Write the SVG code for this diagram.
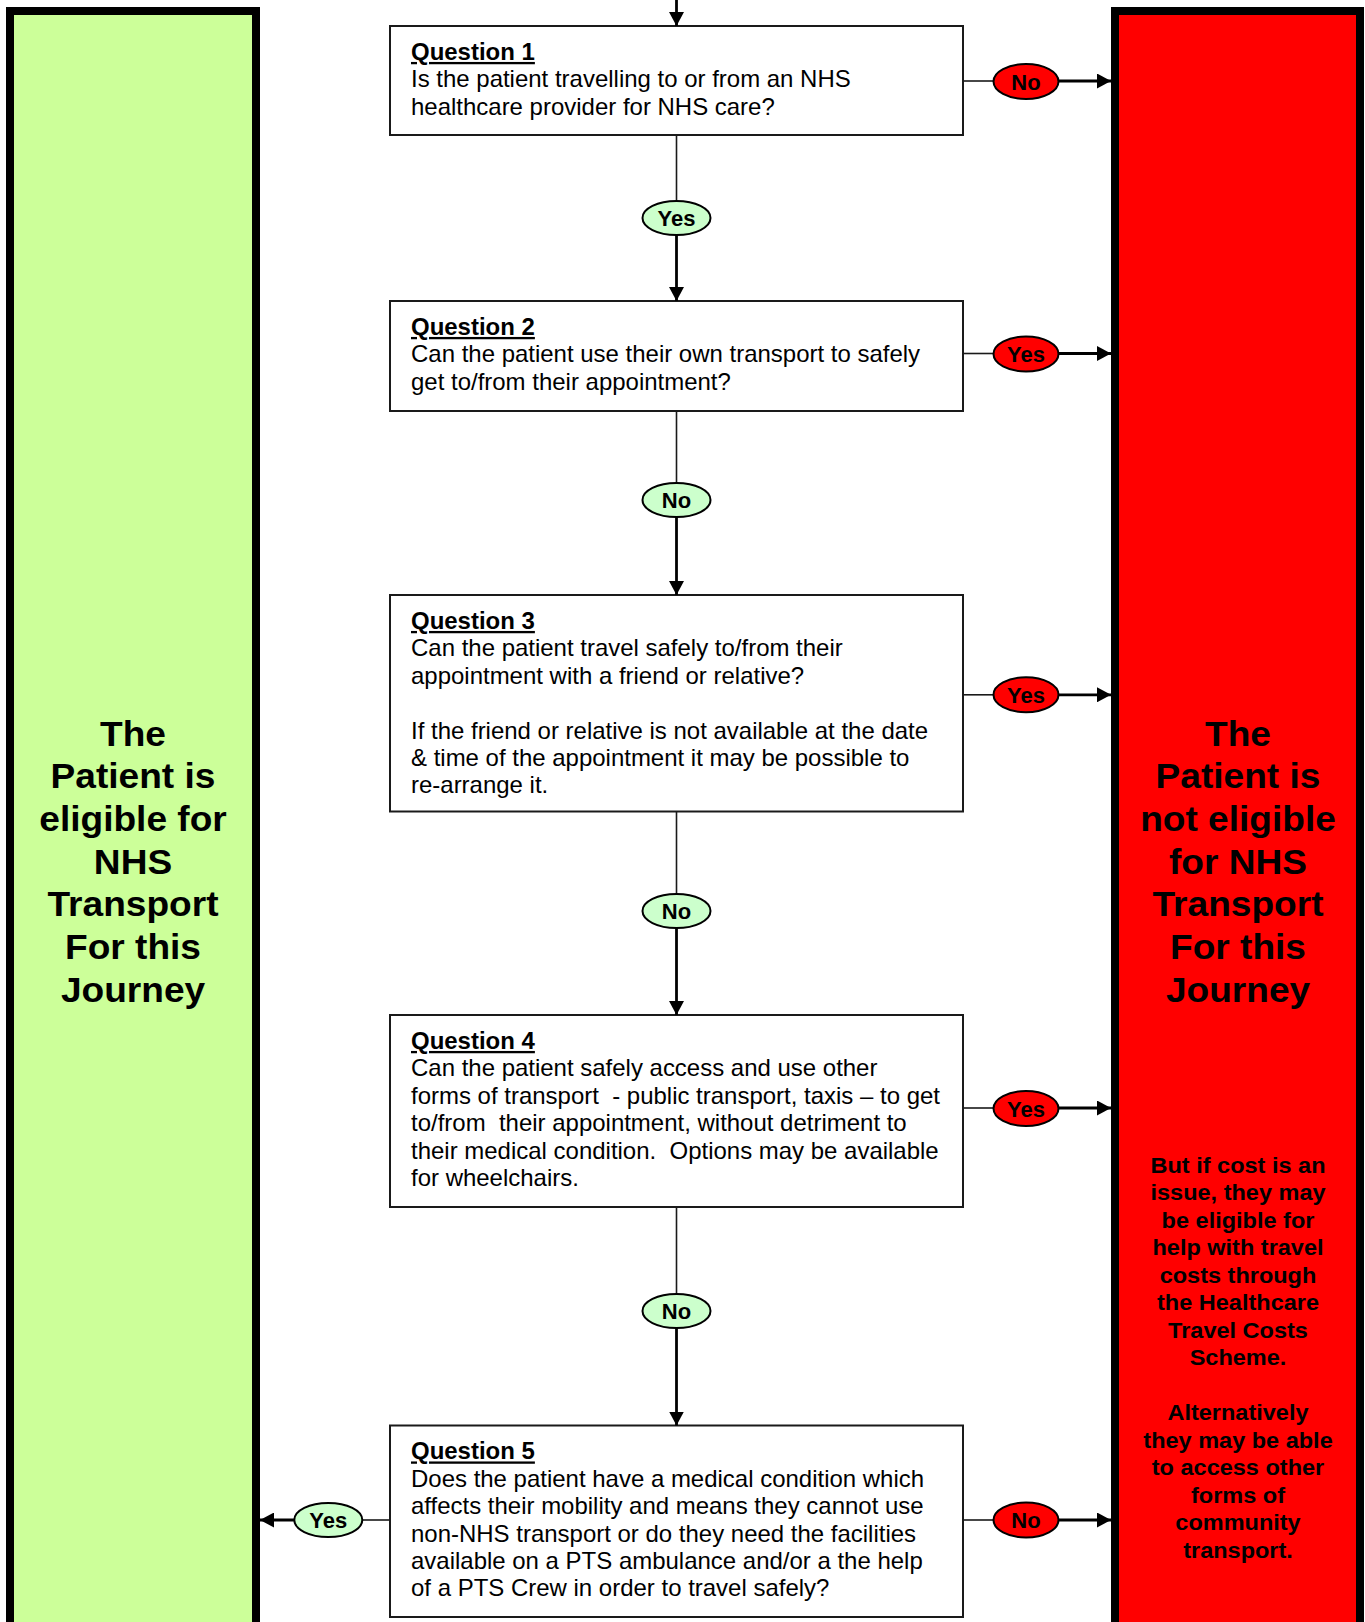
<svg xmlns="http://www.w3.org/2000/svg" width="1365" height="1622" viewBox="0 0 1365 1622">
<style>
.q{font-family:"Liberation Sans",Arial,sans-serif;font-size:23px;fill:#000}
.qt{font-weight:bold;text-decoration:underline}
.box{fill:#fff;stroke:#1a1a1a;stroke-width:2}
.big{font-family:"Liberation Sans",Arial,sans-serif;font-size:35px;font-weight:bold;fill:#000;text-anchor:middle}
.small{font-family:"Liberation Sans",Arial,sans-serif;font-size:22.5px;font-weight:bold;fill:#000;text-anchor:middle}
.thin{stroke:#1a1a1a;stroke-width:1.6;fill:none}
.thick{stroke:#000;stroke-width:2.8;fill:none}
.lg{fill:#CCFFCC;stroke:#000;stroke-width:2}
.lr{fill:#FF0000;stroke:#000;stroke-width:2}
.lt{font-family:"Liberation Sans",Arial,sans-serif;font-size:22px;font-weight:bold;fill:#000;text-anchor:middle}
</style>
<defs>
<marker id="arr" markerUnits="userSpaceOnUse" markerWidth="14" markerHeight="15" refX="14" refY="7.5" orient="auto">
<path d="M0,0 L14,7.5 L0,15 z" fill="#000"/>
</marker>
</defs>
<rect width="1365" height="1622" fill="#fff"/>

<g id="eligible">
<rect x="10" y="11" width="246" height="1700" fill="#CCFF99" stroke="#000" stroke-width="8"/>
<g transform="translate(133 0) scale(1.06 1)">
<text class="big" x="0" y="745.7">The</text>
<text class="big" x="0" y="788.4">Patient is</text>
<text class="big" x="0" y="831">eligible for</text>
<text class="big" x="0" y="873.7">NHS</text>
<text class="big" x="0" y="916.4">Transport</text>
<text class="big" x="0" y="959">For this</text>
<text class="big" x="0" y="1001.7">Journey</text>
</g>
</g>

<g id="not-eligible">
<rect x="1115" y="11" width="245" height="1700" fill="#FF0000" stroke="#000" stroke-width="8"/>
<g transform="translate(1238 0) scale(1.06 1)">
<text class="big" x="0" y="745.7">The</text>
<text class="big" x="0" y="788.4">Patient is</text>
<text class="big" x="0" y="831">not eligible</text>
<text class="big" x="0" y="873.7">for NHS</text>
<text class="big" x="0" y="916.4">Transport</text>
<text class="big" x="0" y="959">For this</text>
<text class="big" x="0" y="1001.7">Journey</text>
</g>
<g transform="translate(1238 0) scale(1.045 1)">
<text class="small" x="0" y="1172.7">But if cost is an</text>
<text class="small" x="0" y="1200.2">issue, they may</text>
<text class="small" x="0" y="1227.7">be eligible for</text>
<text class="small" x="0" y="1255.2">help with travel</text>
<text class="small" x="0" y="1282.7">costs through</text>
<text class="small" x="0" y="1310.2">the Healthcare</text>
<text class="small" x="0" y="1337.7">Travel Costs</text>
<text class="small" x="0" y="1365.2">Scheme.</text>
<text class="small" x="0" y="1420.2">Alternatively</text>
<text class="small" x="0" y="1447.7">they may be able</text>
<text class="small" x="0" y="1475.2">to access other</text>
<text class="small" x="0" y="1502.7">forms of</text>
<text class="small" x="0" y="1530.2">community</text>
<text class="small" x="0" y="1557.7">transport.</text>
</g>
</g>

<g id="q1">
<rect class="box" x="390" y="26" width="573" height="109"/>
<g transform="translate(411 0) scale(1.043 1)">
<text class="q qt" x="0" y="60">Question 1</text>
<text class="q" x="0" y="87.4">Is the patient travelling to or from an NHS</text>
<text class="q" x="0" y="114.8">healthcare provider for NHS care?</text>
</g>
</g>

<g id="q2">
<rect class="box" x="390" y="301" width="573" height="110"/>
<g transform="translate(411 0) scale(1.043 1)">
<text class="q qt" x="0" y="335">Question 2</text>
<text class="q" x="0" y="362.4">Can the patient use their own transport to safely</text>
<text class="q" x="0" y="389.8">get to/from their appointment?</text>
</g>
</g>

<g id="q3">
<rect class="box" x="390" y="595" width="573" height="216.5"/>
<g transform="translate(411 0) scale(1.043 1)">
<text class="q qt" x="0" y="629">Question 3</text>
<text class="q" x="0" y="656.4">Can the patient travel safely to/from their</text>
<text class="q" x="0" y="683.8">appointment with a friend or relative?</text>
<text class="q" x="0" y="738.6">If the friend or relative is not available at the date</text>
<text class="q" x="0" y="766">&amp; time of the appointment it may be possible to</text>
<text class="q" x="0" y="793.4">re-arrange it.</text>
</g>
</g>

<g id="q4">
<rect class="box" x="390" y="1015" width="573" height="192"/>
<g transform="translate(411 0) scale(1.043 1)">
<text class="q qt" x="0" y="1049">Question 4</text>
<text class="q" x="0" y="1076.4">Can the patient safely access and use other</text>
<text class="q" x="0" y="1103.8" xml:space="preserve">forms of transport  - public transport, taxis – to get</text>
<text class="q" x="0" y="1131.2" xml:space="preserve">to/from  their appointment, without detriment to</text>
<text class="q" x="0" y="1158.6" xml:space="preserve">their medical condition.  Options may be available</text>
<text class="q" x="0" y="1186">for wheelchairs.</text>
</g>
</g>

<g id="q5">
<rect class="box" x="390" y="1425.5" width="573" height="191.5"/>
<g transform="translate(411 0) scale(1.043 1)">
<text class="q qt" x="0" y="1459.5">Question 5</text>
<text class="q" x="0" y="1486.9">Does the patient have a medical condition which</text>
<text class="q" x="0" y="1514.3">affects their mobility and means they cannot use</text>
<text class="q" x="0" y="1541.7">non-NHS transport or do they need the facilities</text>
<text class="q" x="0" y="1569.1">available on a PTS ambulance and/or a the help</text>
<text class="q" x="0" y="1596.5">of a PTS Crew in order to travel safely?</text>
</g>
</g>

<g id="connectors">
<line class="thick" x1="676.5" y1="0" x2="676.5" y2="26" marker-end="url(#arr)"/>
<line class="thin" x1="676.5" y1="135" x2="676.5" y2="201"/>
<line class="thick" x1="676.5" y1="235" x2="676.5" y2="301" marker-end="url(#arr)"/>
<line class="thin" x1="676.5" y1="411" x2="676.5" y2="483"/>
<line class="thick" x1="676.5" y1="517" x2="676.5" y2="595" marker-end="url(#arr)"/>
<line class="thin" x1="676.5" y1="811.5" x2="676.5" y2="894"/>
<line class="thick" x1="676.5" y1="928" x2="676.5" y2="1015" marker-end="url(#arr)"/>
<line class="thin" x1="676.5" y1="1207" x2="676.5" y2="1294"/>
<line class="thick" x1="676.5" y1="1328" x2="676.5" y2="1425.5" marker-end="url(#arr)"/>

<line class="thin" x1="963" y1="81" x2="993.5" y2="81"/>
<line class="thick" x1="1058.5" y1="81" x2="1111" y2="81" marker-end="url(#arr)"/>
<line class="thin" x1="963" y1="353.5" x2="993.5" y2="353.5"/>
<line class="thick" x1="1058.5" y1="353.5" x2="1111" y2="353.5" marker-end="url(#arr)"/>
<line class="thin" x1="963" y1="694.8" x2="993.5" y2="694.8"/>
<line class="thick" x1="1058.5" y1="694.8" x2="1111" y2="694.8" marker-end="url(#arr)"/>
<line class="thin" x1="963" y1="1108" x2="993.5" y2="1108"/>
<line class="thick" x1="1058.5" y1="1108" x2="1111" y2="1108" marker-end="url(#arr)"/>
<line class="thin" x1="963" y1="1520" x2="993.5" y2="1520"/>
<line class="thick" x1="1058.5" y1="1520" x2="1111" y2="1520" marker-end="url(#arr)"/>

<line class="thin" x1="390" y1="1520" x2="362.3" y2="1520"/>
<line class="thick" x1="294.3" y1="1520" x2="260" y2="1520" marker-end="url(#arr)"/>

<g id="label-q1-yes"><ellipse class="lg" cx="676.5" cy="218" rx="34" ry="17"/><text class="lt" x="676.5" y="226">Yes</text></g>
<g id="label-q2-no"><ellipse class="lg" cx="676.5" cy="500" rx="34" ry="17"/><text class="lt" x="676.5" y="508">No</text></g>
<g id="label-q3-no"><ellipse class="lg" cx="676.5" cy="911" rx="34" ry="17"/><text class="lt" x="676.5" y="919">No</text></g>
<g id="label-q4-no"><ellipse class="lg" cx="676.5" cy="1311" rx="34" ry="17"/><text class="lt" x="676.5" y="1319">No</text></g>
<g id="label-q5-yes"><ellipse class="lg" cx="328.3" cy="1520" rx="34" ry="17"/><text class="lt" x="328.3" y="1528">Yes</text></g>
<g id="label-q1-no"><ellipse class="lr" cx="1026" cy="81.5" rx="32.5" ry="17.5"/><text class="lt" x="1026" y="89.5">No</text></g>
<g id="label-q2-yes"><ellipse class="lr" cx="1026" cy="354" rx="32.5" ry="17.5"/><text class="lt" x="1026" y="362">Yes</text></g>
<g id="label-q3-yes"><ellipse class="lr" cx="1026" cy="694.8" rx="32.5" ry="17.5"/><text class="lt" x="1026" y="702.8">Yes</text></g>
<g id="label-q4-yes"><ellipse class="lr" cx="1026" cy="1108.5" rx="32.5" ry="17.5"/><text class="lt" x="1026" y="1116.5">Yes</text></g>
<g id="label-q5-no"><ellipse class="lr" cx="1026" cy="1520" rx="32.5" ry="17.5"/><text class="lt" x="1026" y="1528">No</text></g>
</g>
</svg>
